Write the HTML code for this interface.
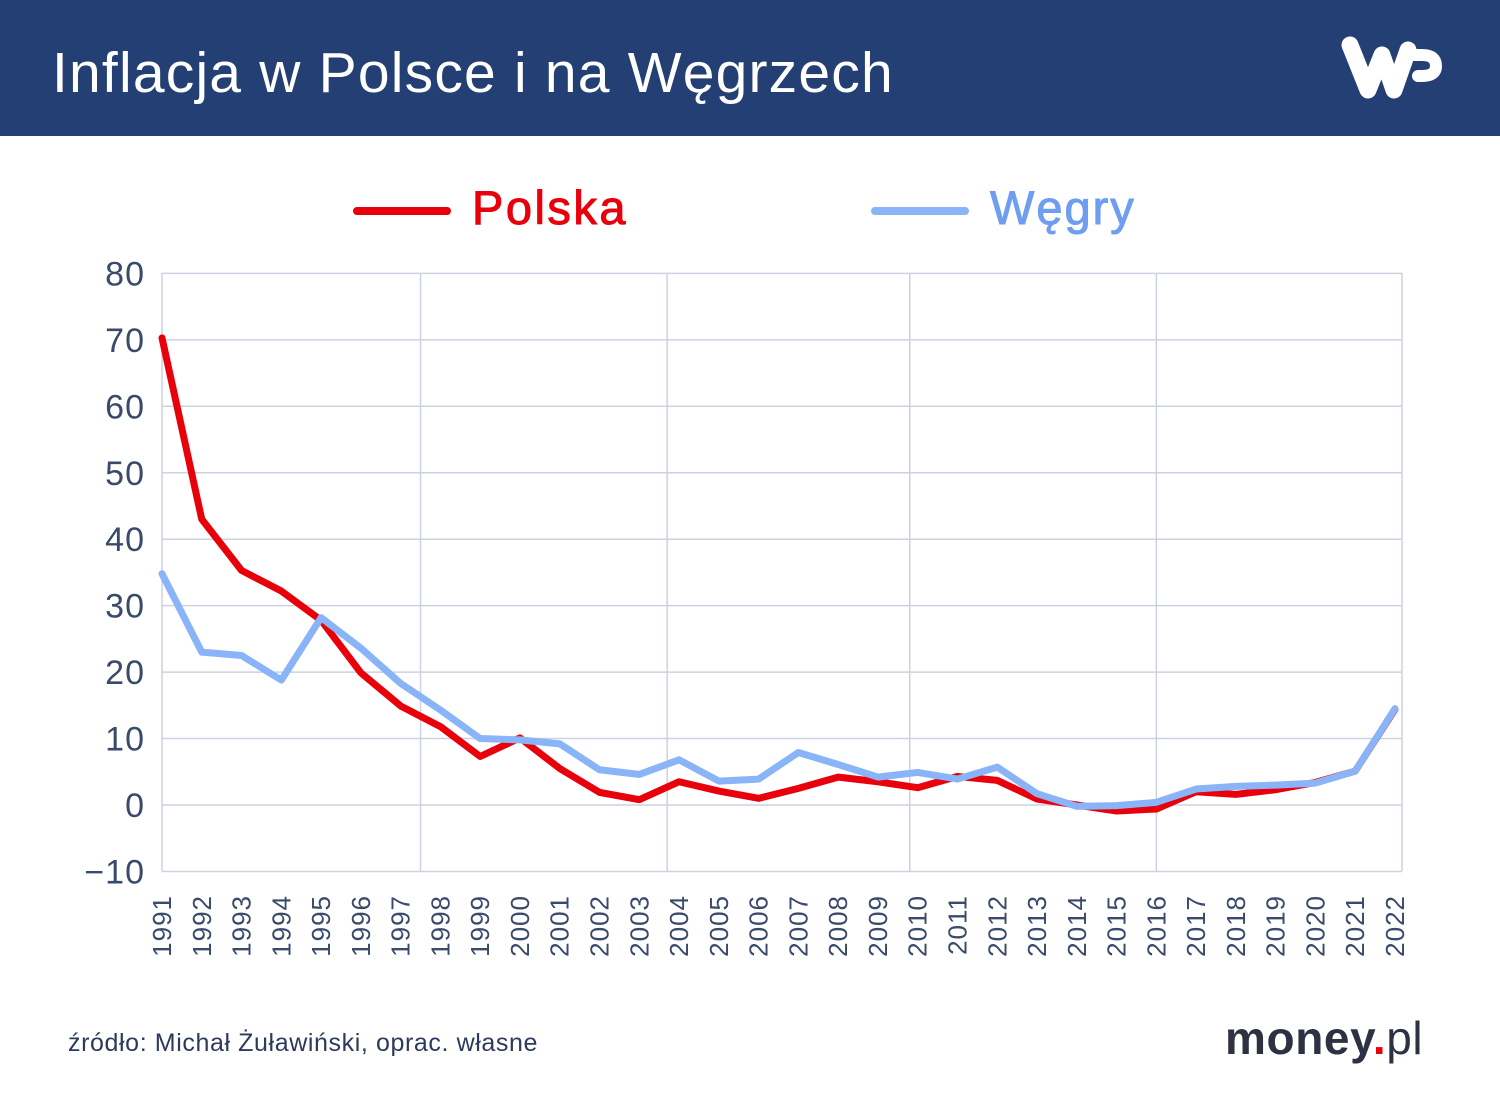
<!DOCTYPE html>
<html><head><meta charset="utf-8">
<style>
body{margin:0;width:1500px;height:1104px;background:#fff;overflow:hidden;font-family:"Liberation Sans",sans-serif;}
</style></head>
<body>
<svg width="1500" height="1104" xmlns="http://www.w3.org/2000/svg" id="chart">
<rect x="0" y="0" width="1500" height="136" fill="#233f74"/>
<text x="52" y="92" font-size="57" fill="#fff" letter-spacing="1.2" font-family="Liberation Sans, sans-serif">Inflacja w Polsce i na Węgrzech</text>
<g>
<path d="M1350 45 L1368 90 L1382 55 L1394 90 L1408 50" stroke="#fff" stroke-width="17" fill="none" stroke-linecap="round" stroke-linejoin="round"/>
<path d="M1408 55 L1422 55 Q1436 55 1436 66 Q1436 76 1422 76 L1418 76" stroke="#fff" stroke-width="12" fill="none" stroke-linecap="round"/>
</g>
<g>
<line x1="357" y1="211" x2="447" y2="211" stroke="#e8000b" stroke-width="8" stroke-linecap="round"/>
<text x="472" y="224" font-size="47" fill="#e8000b" stroke="#e8000b" stroke-width="1" letter-spacing="2.5">Polska</text>
<line x1="875" y1="211" x2="965" y2="211" stroke="#8ab4f8" stroke-width="8" stroke-linecap="round"/>
<text x="990" y="224" font-size="47" fill="#6f9ef0" stroke="#6f9ef0" stroke-width="1" letter-spacing="2">Węgry</text>
</g>
<g id="grid"></g><g id="axes"></g><g id="lines"></g>
<text x="68" y="1051" font-size="25" fill="#2d3a5c" letter-spacing="0.6">źródło: Michał Żuławiński, oprac. własne</text>
<text x="1225" y="1054" font-size="46" font-weight="bold" fill="#2d3142" letter-spacing="0.6">money<tspan fill="#e8000b">.</tspan><tspan font-weight="normal">pl</tspan></text>
</svg>
<script>
const years=[1991,1992,1993,1994,1995,1996,1997,1998,1999,2000,2001,2002,2003,2004,2005,2006,2007,2008,2009,2010,2011,2012,2013,2014,2015,2016,2017,2018,2019,2020,2021,2022];
const polska=[70.3,43,35.3,32.2,27.8,19.9,14.9,11.8,7.3,10.1,5.5,1.9,0.8,3.5,2.1,1.0,2.5,4.2,3.5,2.6,4.3,3.7,0.9,0.0,-0.9,-0.6,2.0,1.6,2.3,3.4,5.1,14.4];
const wegry=[34.8,23.0,22.5,18.8,28.2,23.6,18.3,14.3,10.0,9.8,9.2,5.3,4.6,6.8,3.6,3.9,7.9,6.1,4.2,4.9,3.9,5.7,1.7,-0.2,-0.1,0.4,2.4,2.8,3.0,3.3,5.1,14.5];
const yTicks=[80,70,60,50,40,30,20,10,0,-10];
const vGridYears=[1991,1997.5,2003.7,2009.8,2016,2022.2];
const NS="http://www.w3.org/2000/svg";
const X=i=>162+i*(1395-162)/(years.length-1);
const XY=yr=>162+(yr-1991)*(1395-162)/31;
const Y=v=>805-v*6.645;
function el(t,a,p){const e=document.createElementNS(NS,t);for(const k in a)e.setAttribute(k,a[k]);p.appendChild(e);return e;}
const grid=document.getElementById('grid'),axes=document.getElementById('axes'),lines=document.getElementById('lines');
yTicks.forEach(v=>{
const l=el('line',{x1:162,x2:1402,y1:Y(v),y2:Y(v),stroke:'#cdd1e2','stroke-width':1.5},grid);


const t=el('text',{x:145,y:Y(v)+12,'text-anchor':'end','font-size':34,fill:'#3a4a6b','letter-spacing':1},axes);
t.textContent=v===-10?'−10':v;


});
vGridYears.forEach(yr=>{
const x=Math.min(1402,XY(yr));
const l=el('line',{x1:x,x2:x,y1:273,y2:871,stroke:'#cdd1e2','stroke-width':1.5},grid);


});
years.forEach((yr,i)=>{
const x=X(i)+9;
const t=el('text',{x:x,y:895,transform:`rotate(-90 ${x} 895)`,'text-anchor':'end','font-size':26,fill:'#3a4a6b','letter-spacing':1},axes);
t.textContent=yr;


});
function line(data,color,name){
const p=el('polyline',{points:data.map((v,i)=>X(i)+','+Y(v)).join(' '),fill:'none',stroke:color,'stroke-width':7,'stroke-linejoin':'round','stroke-linecap':'round'},lines);


}
line(polska,'#e8000b','polska-line');
line(wegry,'#8ab4f8','wegry-line');
</script>
</body></html>
